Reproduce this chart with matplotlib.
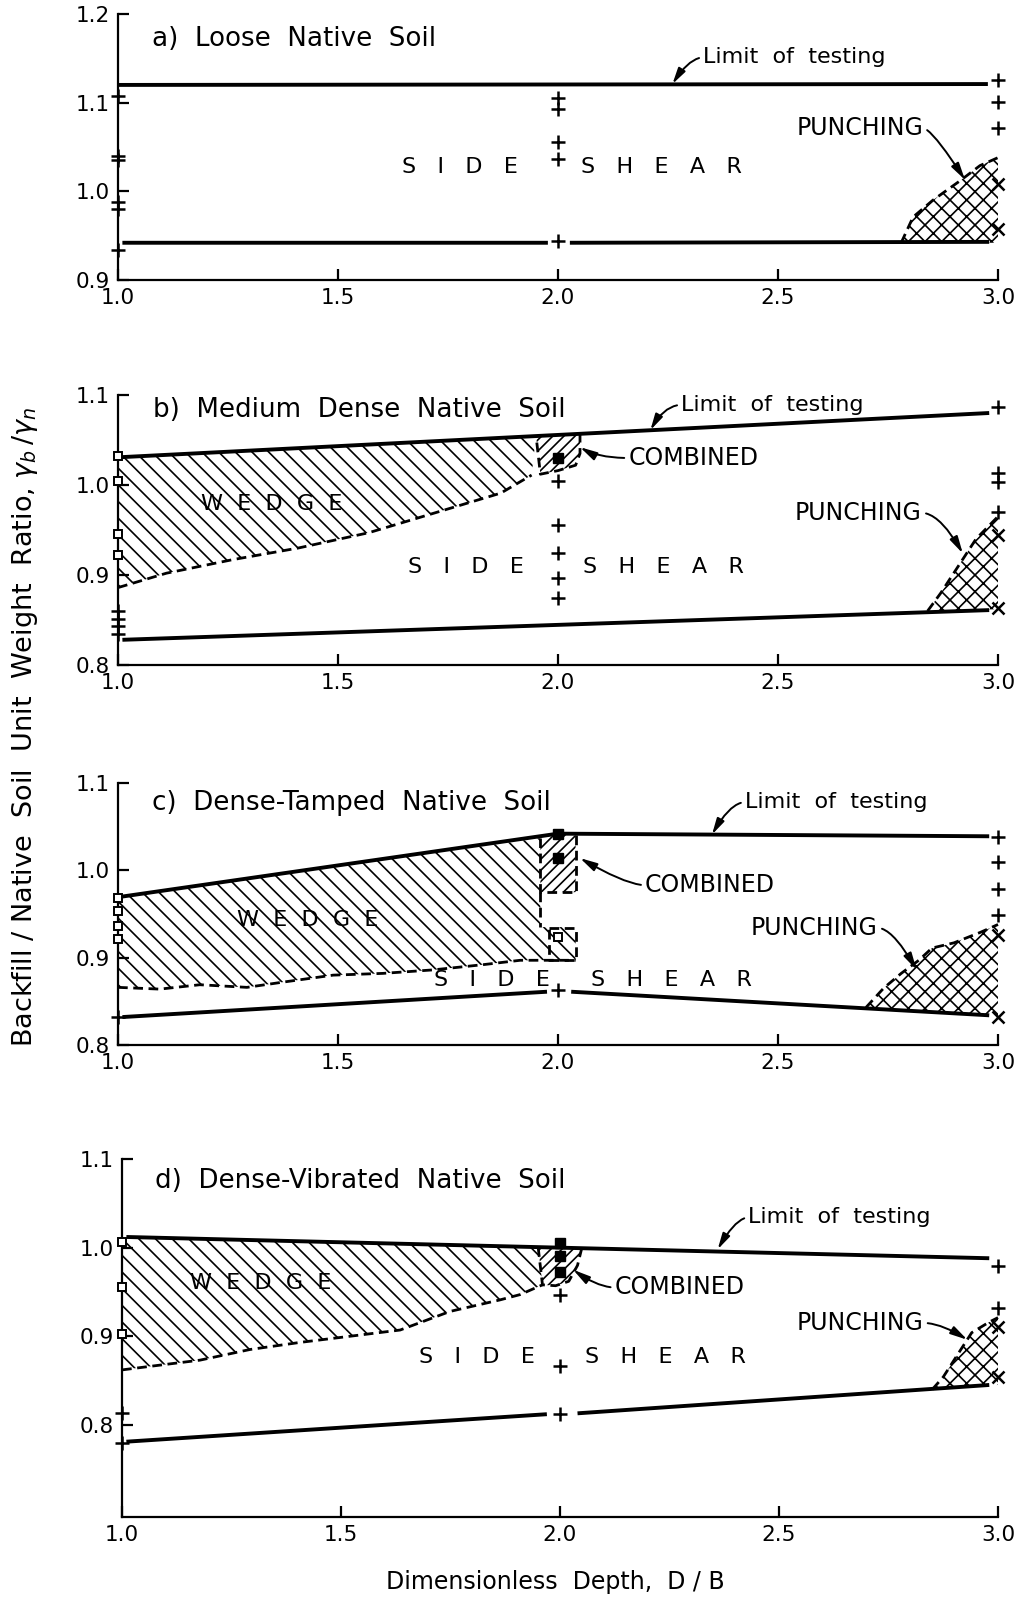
import numpy as np
import matplotlib
matplotlib.use("Agg")
import matplotlib.pyplot as plt
from matplotlib.patches import Polygon

plt.rcParams['font.family'] = ['DejaVu Sans']
plt.rcParams['hatch.linewidth'] = 1.2

nan = np.nan
db_ticks = [1.0, 1.5, 2.0, 2.5, 3.0]

# ---- a) loose native soil
a_limit_x = [1.0, 2.977]
a_limit_y = [1.120, 1.121]
a_lower_x = [1.01, 1.977, nan, 2.027, 2.98]
a_lower_y = [0.942, 0.942, nan, 0.942, 0.943]
a_punch_x = [2.78, 2.807, 2.852, 2.914, 2.959, 3.0]
a_punch_y = [0.942, 0.971, 0.990, 1.012, 1.029, 1.038]
a_plus_1 = [1.108, 1.040, 1.035, 0.988, 0.980, 0.934]
a_plus_2 = [1.105, 1.093, 1.056, 1.036, 0.944]
a_plus_3 = [1.125, 1.101, 1.071]
a_x_3 = [1.008, 0.957]

# ---- b) medium dense native soil
b_limit_x = [1.01, 2.98]
b_limit_y = [1.031, 1.080]
b_lower_x = [1.01, 2.98]
b_lower_y = [0.828, 0.861]
b_wedge_top_x = [1.0, 1.95]
b_wedge_top_y = [1.031, 1.055]
b_wedge_bot_x = [1.0, 1.11, 1.26, 1.41, 1.57, 1.72, 1.87, 1.94]
b_wedge_bot_y = [0.886, 0.902, 0.917, 0.930, 0.947, 0.969, 0.991, 1.011]
b_comb_x = [1.95, 2.05, 2.05, 2.04, 2.0, 1.96]
b_comb_y = [1.055, 1.058, 1.035, 1.022, 1.016, 1.012]
b_punch_x = [2.84, 2.87, 2.91, 2.95, 3.0]
b_punch_y = [0.860, 0.880, 0.910, 0.940, 0.965]
b_sq_1 = [1.032, 1.005, 0.946, 0.922]
b_plus_1 = [0.860, 0.851, 0.843, 0.835]
b_fill_2 = [1.030]
b_plus_2 = [1.005, 0.956, 0.924, 0.897, 0.875]
b_plus_3 = [1.087, 1.013, 1.003, 0.970]
b_x_3 = [0.944, 0.863]

# ---- c) dense-tamped native soil
c_limit_x = [1.01, 2.0, 2.98]
c_limit_y = [0.970, 1.042, 1.039]
c_lower_x = [1.01, 1.975, nan, 2.03, 2.98]
c_lower_y = [0.832, 0.861, nan, 0.861, 0.834]
c_wedge_top_x = [1.0, 1.96]
c_wedge_top_y = [0.970, 1.037]
c_wedge_step_x = [1.96, 1.96, 2.04, 2.04]
c_wedge_step_y = [0.975, 0.935, 0.935, 0.897]
c_wedge_bot_x = [1.0, 1.095, 1.186, 1.293, 1.375, 1.489, 1.602, 1.716, 1.830, 1.914, 2.04]
c_wedge_bot_y = [0.866, 0.864, 0.869, 0.866, 0.872, 0.880, 0.882, 0.886, 0.892, 0.897, 0.897]
c_comb_x = [1.96, 2.0, 2.04, 2.04, 1.96]
c_comb_y = [1.037, 1.042, 1.040, 0.975, 0.975]
c_box_x = [1.98, 2.04, 2.04, 1.98, 1.98]
c_box_y = [0.934, 0.934, 0.897, 0.897, 0.934]
c_punch_x = [2.70, 2.74, 2.78, 2.82, 2.85, 2.90, 2.96, 3.0]
c_punch_y = [0.843, 0.865, 0.882, 0.897, 0.911, 0.917, 0.929, 0.938]
c_sq_1 = [0.968, 0.953, 0.936, 0.921]
c_plus_1 = [0.832]
c_fill_2 = [1.042, 1.014]
c_sq_2 = [0.924]
c_plus_2 = [0.863]
c_plus_3 = [1.038, 1.010, 0.979, 0.949]
c_x_3 = [0.926, 0.832]

# ---- d) dense-vibrated native soil
d_limit_x = [1.01, 2.98]
d_limit_y = [1.012, 0.988]
d_lower_x = [1.01, 1.97, nan, 2.04, 2.98]
d_lower_y = [0.781, 0.812, nan, 0.813, 0.845]
d_wedge_top_x = [1.0, 1.95]
d_wedge_top_y = [1.012, 1.001]
d_wedge_bot_x = [1.0, 1.064, 1.178, 1.292, 1.406, 1.521, 1.635, 1.749, 1.863, 1.909, 1.96]
d_wedge_bot_y = [0.862, 0.866, 0.873, 0.885, 0.893, 0.900, 0.907, 0.928, 0.941, 0.947, 0.958]
d_comb_x = [1.95, 2.05, 2.04, 2.02, 1.99, 1.96]
d_comb_y = [1.001, 1.000, 0.980, 0.962, 0.957, 0.958]
d_punch_x = [2.85, 2.875, 2.91, 2.94, 2.98, 3.0]
d_punch_y = [0.840, 0.854, 0.881, 0.904, 0.916, 0.921]
d_sq_1 = [1.006, 0.956, 0.902]
d_plus_1 = [0.813, 0.780]
d_fill_2 = [1.005, 0.990, 0.972]
d_plus_2 = [0.947, 0.866, 0.812]
d_plus_3 = [0.979, 0.932]
d_x_3 = [0.910, 0.854]

W, H = 1022, 1597
fig = plt.figure(figsize=(W / 100, H / 100), dpi=100)


def make_axes(left, top, right, bottom, ylim, yticks):
    ax = fig.add_axes([left / W, 1 - bottom / H, (right - left) / W, (bottom - top) / H])
    ax.set_xlim(1.0, 3.0)
    ax.set_ylim(*ylim)
    for s in ('top', 'right'):
        ax.spines[s].set_visible(False)
    for s in ('left', 'bottom'):
        ax.spines[s].set_linewidth(1.6)
    ax.set_xticks(db_ticks)
    ax.set_xticklabels([f'{t:.1f}' for t in db_ticks])
    ax.set_yticks(yticks)
    ax.set_yticklabels([f'{t:.1f}' for t in yticks])
    ax.tick_params(direction='in', length=8, width=1.6, labelsize=15.5, pad=6)
    return ax


LW = 2.8
DASH = (0, (3.5, 2.0))


def limit_lines(ax, lx, ly, ox, oy):
    ax.plot(lx, ly, color='k', lw=LW, solid_capstyle='butt')
    ax.plot(ox, oy, color='k', lw=LW, solid_capstyle='butt')


def hatched(ax, xs, ys, hatch):
    ax.add_patch(Polygon(np.column_stack([xs, ys]), closed=True, facecolor='none',
                         edgecolor='k', lw=0, hatch=hatch))


def punching(ax, px, py, base_y):
    hatched(ax, list(px) + [3.0], list(py) + [base_y], 'xx')
    ax.plot(px, py, color='k', lw=2, ls=DASH, clip_on=False)


def marks(ax, x, ys, kind):
    if kind == '+':
        ax.plot([x] * len(ys), ys, '+', color='k', ms=10, mew=1.8, clip_on=False, zorder=5)
    elif kind == 'x':
        ax.plot([x] * len(ys), ys, 'x', color='k', ms=8, mew=1.8, clip_on=False, zorder=5)
    elif kind == 'sq':
        ax.plot([x] * len(ys), ys, 's', mfc='white', mec='k', ms=6, mew=1.4, clip_on=False, zorder=5)
    elif kind == 'fill':
        ax.plot([x] * len(ys), ys, 's', color='k', ms=6.5, clip_on=False, zorder=5)


def arrow_label(ax, text, tip, at, side, angle, size=17):
    ax.annotate(text, xy=tip, xytext=at, ha=side, va='center', fontsize=size,
                arrowprops=dict(arrowstyle='-|>,head_length=0.6,head_width=0.15', color='k', lw=1.4,
                                shrinkA=1, shrinkB=0, relpos=(0 if side == 'left' else 1, 0.5),
                                connectionstyle=f'angle3,angleA=0,angleB={angle}'))


def limit_label(ax, tip, at, angle):
    arrow_label(ax, 'Limit  of  testing', tip, at, 'left', angle, size=16)


def zone_text(ax, x, y, s):
    ax.text(x, y, s, ha='center', va='center', fontsize=16)


def title(ax, x, y, s):
    ax.text(x, y, s, fontsize=18.8, va='center')


SIDE = 'S   I   D   E'
SHEAR = 'S   H   E   A   R'
WEDGE = 'W  E  D  G  E'

# ---------------- panel a
ax = make_axes(118, 14, 998, 280, (0.9, 1.2), [0.9, 1.0, 1.1, 1.2])
limit_lines(ax, a_limit_x, a_limit_y, a_lower_x, a_lower_y)
punching(ax, a_punch_x, a_punch_y, 0.942)
marks(ax, 1.0, a_plus_1, '+')
marks(ax, 2.0, a_plus_2, '+')
marks(ax, 3.0, a_plus_3, '+')
marks(ax, 3.0, a_x_3, 'x')
title(ax, 1.077, 1.172, 'a)  Loose  Native  Soil')
limit_label(ax, (2.26, 1.121), (2.33, 1.151), 57)
arrow_label(ax, 'PUNCHING', (2.925, 1.013), (2.83, 1.071), 'right', -57)
zone_text(ax, 1.777, 1.027, SIDE)
zone_text(ax, 2.236, 1.027, SHEAR)

# ---------------- panel b
ax = make_axes(118, 395, 998, 665, (0.8, 1.1), [0.8, 0.9, 1.0, 1.1])
hatched(ax, b_wedge_top_x + b_wedge_bot_x[::-1], b_wedge_top_y + b_wedge_bot_y[::-1], '\\\\')
ax.plot(b_wedge_bot_x, b_wedge_bot_y, color='k', lw=2, ls=DASH)
hatched(ax, b_comb_x, b_comb_y, '///')
ax.plot(b_comb_x[1:] + [b_comb_x[0]], b_comb_y[1:] + [b_comb_y[0]], color='k', lw=2, ls=DASH)
limit_lines(ax, b_limit_x, b_limit_y, b_lower_x, b_lower_y)
punching(ax, b_punch_x, b_punch_y, 0.862)
marks(ax, 1.0, b_sq_1, 'sq')
marks(ax, 1.0, b_plus_1, '+')
marks(ax, 2.0, b_fill_2, 'fill')
marks(ax, 2.0, b_plus_2, '+')
marks(ax, 3.0, b_plus_3, '+')
marks(ax, 3.0, b_x_3, 'x')
title(ax, 1.08, 1.083, 'b)  Medium  Dense  Native  Soil')
limit_label(ax, (2.21, 1.061), (2.28, 1.089), 60)
arrow_label(ax, 'COMBINED', (2.05, 1.042), (2.16, 1.030), 'left', -30)
arrow_label(ax, 'PUNCHING', (2.92, 0.924), (2.827, 0.969), 'right', -60)
zone_text(ax, 1.35, 0.979, WEDGE)
zone_text(ax, 1.79, 0.909, SIDE)
zone_text(ax, 2.24, 0.909, SHEAR)

# ---------------- panel c
ax = make_axes(118, 783, 998, 1045, (0.8, 1.1), [0.8, 0.9, 1.0, 1.1])
hatched(ax, c_wedge_top_x + c_wedge_step_x + c_wedge_bot_x[::-1],
        c_wedge_top_y + c_wedge_step_y + c_wedge_bot_y[::-1], '\\\\')
ax.plot(c_wedge_bot_x, c_wedge_bot_y, color='k', lw=2, ls=DASH)
ax.plot(c_wedge_step_x[:2], c_wedge_step_y[:2], color='k', lw=2, ls=DASH)
hatched(ax, c_comb_x, c_comb_y, '///')
ax.plot(c_comb_x[2:] + [c_comb_x[0]], c_comb_y[2:] + [c_comb_y[0]], color='k', lw=2, ls=DASH)
ax.plot(c_box_x, c_box_y, color='k', lw=2, ls=DASH)
limit_lines(ax, c_limit_x, c_limit_y, c_lower_x, c_lower_y)
punching(ax, c_punch_x, c_punch_y, 0.834)
marks(ax, 1.0, c_sq_1, 'sq')
marks(ax, 1.0, c_plus_1, '+')
marks(ax, 2.0, c_fill_2, 'fill')
marks(ax, 2.0, c_sq_2, 'sq')
marks(ax, 2.0, c_plus_2, '+')
marks(ax, 3.0, c_plus_3, '+')
marks(ax, 3.0, c_x_3, 'x')
title(ax, 1.077, 1.077, 'c)  Dense-Tamped  Native  Soil')
limit_label(ax, (2.35, 1.041), (2.425, 1.078), 60)
arrow_label(ax, 'COMBINED', (2.05, 1.014), (2.198, 0.983), 'left', -30)
arrow_label(ax, 'PUNCHING', (2.815, 0.886), (2.727, 0.934), 'right', -60)
zone_text(ax, 1.43, 0.943, WEDGE)
zone_text(ax, 1.85, 0.874, SIDE)
zone_text(ax, 2.257, 0.874, SHEAR)

# ---------------- panel d
ax = make_axes(122, 1159, 998, 1517, (0.696, 1.1), [0.8, 0.9, 1.0, 1.1])
hatched(ax, d_wedge_top_x + d_wedge_bot_x[::-1], d_wedge_top_y + d_wedge_bot_y[::-1], '\\\\')
ax.plot(d_wedge_bot_x, d_wedge_bot_y, color='k', lw=2, ls=DASH)
hatched(ax, d_comb_x, d_comb_y, '///')
ax.plot(d_comb_x[1:] + [d_comb_x[0]], d_comb_y[1:] + [d_comb_y[0]], color='k', lw=2, ls=DASH)
limit_lines(ax, d_limit_x, d_limit_y, d_lower_x, d_lower_y)
punching(ax, d_punch_x, d_punch_y, 0.845)
marks(ax, 1.0, d_sq_1, 'sq')
marks(ax, 1.0, d_plus_1, '+')
marks(ax, 2.0, d_fill_2, 'fill')
marks(ax, 2.0, d_plus_2, '+')
marks(ax, 3.0, d_plus_3, '+')
marks(ax, 3.0, d_x_3, 'x')
title(ax, 1.075, 1.075, 'd)  Dense-Vibrated  Native  Soil')
limit_label(ax, (2.36, 0.998), (2.43, 1.034), 60)
arrow_label(ax, 'COMBINED', (2.03, 0.975), (2.125, 0.955), 'left', -35)
arrow_label(ax, 'PUNCHING', (2.93, 0.896), (2.83, 0.915), 'right', -32)
zone_text(ax, 1.317, 0.960, WEDGE)
zone_text(ax, 1.81, 0.876, SIDE)
zone_text(ax, 2.24, 0.876, SHEAR)

fig.text(555 / W, 1 - 1582 / H, 'Dimensionless  Depth,  D / B', ha='center', va='center', fontsize=17)
fig.text(25 / W, 1 - 727 / H, r'Backfill / Native  Soil  Unit  Weight  Ratio, $\gamma_b\,/\gamma_n$',
         ha='center', va='center', rotation=90, fontsize=19.5)

fig.savefig('out.png', dpi=100)
